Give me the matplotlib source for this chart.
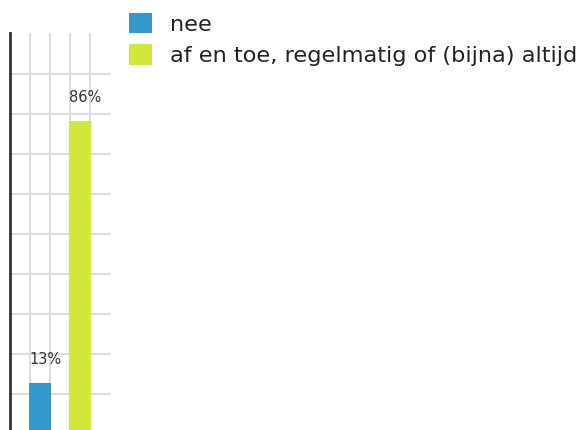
import matplotlib
matplotlib.use("Agg")
import matplotlib.pyplot as plt
from matplotlib.patches import Patch
import numpy as np

plt.rcParams["font.family"] = ["DejaVu Sans"]

series = ["nee", "af en toe, regelmatig of (bijna) altijd"]
values = [13, 86]
labels = ["13%", "86%"]
colors = ["#3399cc", "#d1e83a"]

W, H = 583, 430
fig = plt.figure(figsize=(W / 100, H / 100), dpi=100)
# axes: x 10..111 px, y 33..430 px
ax = fig.add_axes([10 / W, 0, 101 / W, 397 / H])

px_per_unit = 3.59
ax.set_ylim(0, 397 / px_per_unit)
ax.set_xlim(0, 5.05)

positions = [1.5, 3.5]
width = 1.1
ax.bar(positions, values, width=width, color=colors, zorder=3)
for p, v, lab in zip(positions, values, labels):
    ax.text(p - width / 2, v + 24 / px_per_unit, lab, ha="left", va="center",
            fontsize=10.5, color="#333333", zorder=4)

# grid
yt = [(430 - y) / px_per_unit for y in [394, 354, 314, 274, 234, 194, 154, 114, 74]]
ax.set_yticks(yt)
ax.set_xticks([1, 2, 3, 4])
ax.grid(True, color="#dddddd", linewidth=1.5, zorder=0)
ax.tick_params(left=False, bottom=False, labelleft=False, labelbottom=False)
for s in ["top", "right", "bottom"]:
    ax.spines[s].set_visible(False)
ax.spines["left"].set_color("#333333")
ax.spines["left"].set_linewidth(2)

fs = 16.2
F = fs * 100 / 72  # legend font px
handles = [Patch(facecolor=c, edgecolor="none") for c in colors]
fig.legend(handles, series, loc="upper left",
           bbox_to_anchor=(129 / W, 1 - 13 / H), frameon=False,
           fontsize=fs, handlelength=23 / F, handleheight=23 / F,
           handletextpad=18 / F, labelspacing=0.42, borderpad=0,
           borderaxespad=0, labelcolor="#222222")

fig.savefig("out.png", dpi=100)
